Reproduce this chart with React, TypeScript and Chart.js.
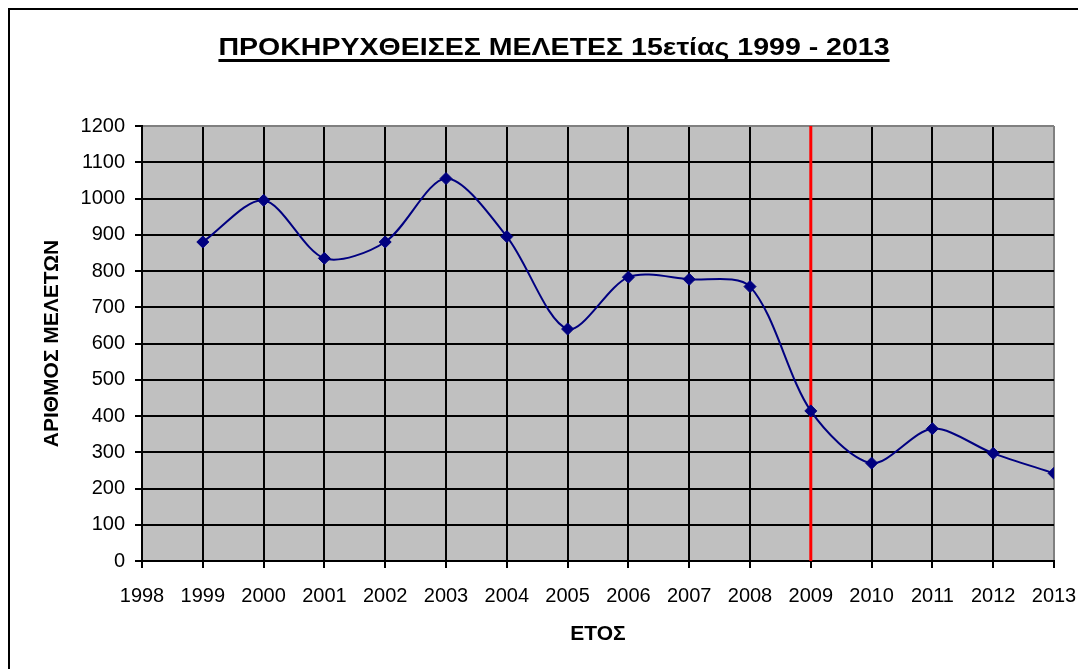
import React, { useEffect, useRef } from "react";
import { Chart, registerables } from "chart.js";

Chart.register(...registerables);

const TITLE = "ΠΡΟΚΗΡΥΧΘΕΙΣΕΣ ΜΕΛΕΤΕΣ 15ετίας 1999 - 2013";
const X_TITLE = "ΕΤΟΣ";
const Y_TITLE = "ΑΡΙΘΜΟΣ ΜΕΛΕΤΩΝ";
const years = [1999, 2000, 2001, 2002, 2003, 2004, 2005, 2006, 2007, 2008, 2009, 2010, 2011, 2012, 2013];
const values = [880, 995, 835, 880, 1055, 895, 640, 783, 777, 757, 414, 270, 365, 297, 242];
const X_MIN = 1998;
const X_MAX = 2013;
const Y_MIN = 0;
const Y_MAX = 1200;
const Y_STEP = 100;
const MARKER_YEAR = 2009;

const FONT = "'Liberation Sans', Arial, sans-serif";

export default function App() {
  const ref = useRef<HTMLCanvasElement | null>(null);

  useEffect(() => {
    if (!ref.current) return;

    const bgPlugin = {
      id: "plotBg",
      beforeDraw(chart: any) {
        const { ctx, chartArea } = chart;
        ctx.save();
        ctx.fillStyle = "#C0C0C0";
        ctx.fillRect(chartArea.left, chartArea.top, chartArea.right - chartArea.left, chartArea.bottom - chartArea.top);
        ctx.restore();
      },
    };

    const markerPlugin = {
      id: "marker",
      beforeDatasetsDraw(chart: any) {
        const { ctx, chartArea, scales } = chart;
        const x = scales.x.getPixelForValue(MARKER_YEAR);
        ctx.save();
        ctx.strokeStyle = "#FF0000";
        ctx.lineWidth = 3;
        ctx.beginPath();
        ctx.moveTo(x, chartArea.top);
        ctx.lineTo(x, chartArea.bottom);
        ctx.stroke();
        ctx.restore();
      },
    };

    const titlePlugin = {
      id: "ulTitle",
      afterDraw(chart: any) {
        const { ctx } = chart;
        ctx.save();
        ctx.font = `bold 23px ${FONT}`;
        ctx.fillStyle = "#000";
        ctx.textAlign = "center";
        ctx.textBaseline = "alphabetic";
        const cx = 544;
        const by = 45;
        const sx = 1.24;
        ctx.translate(cx, 0);
        ctx.scale(sx, 1);
        ctx.fillText(TITLE, 0, by);
        const w = ctx.measureText(TITLE).width;
        ctx.fillRect(-w / 2, 49, w, 3);
        ctx.restore();
      },
    };

    const chart = new Chart(ref.current, {
      type: "line",
      data: {
        datasets: [
          {
            data: years.map((y, i) => ({ x: y, y: values[i] })),
            borderColor: "#000080",
            backgroundColor: "#000080",
            borderWidth: 2,
            tension: 0.3,
            pointStyle: "rectRot",
            pointRadius: 6,
            pointBorderWidth: 1,
            pointBackgroundColor: "#000080",
            pointBorderColor: "#000080",
            fill: false,
          },
        ],
      },
      options: {
        animation: false,
        responsive: false,
        devicePixelRatio: 1,
        layout: { padding: { left: 30, top: 116, right: 32, bottom: 22 } },
        plugins: {
          legend: { display: false },
          title: { display: false },
          tooltip: { enabled: false },
        },
        scales: {
          x: {
            type: "linear",
            min: X_MIN,
            max: X_MAX,
            afterFit(scale: any) {
              scale.height = 86;
              scale.paddingRight = 0;
              scale.paddingLeft = 0;
            },
            ticks: {
              stepSize: 1,
              autoSkip: false,
              maxRotation: 0,
              color: "#000",
              padding: 16,
              font: { family: FONT, size: 20 },
              callback: (v: any) => String(v),
            },
            grid: {
              color: (c: any) => (c.tick && c.tick.value === X_MAX ? "#808080" : "#000"),
              lineWidth: 2,
              tickColor: "#000",
              tickLength: 7,
              drawTicks: true,
            },
            border: { color: "#000", width: 2 },
            title: {
              display: true,
              text: X_TITLE,
              color: "#000",
              font: { family: FONT, size: 21, weight: "bold" },
              padding: 0,
            },
          },
          y: {
            min: Y_MIN,
            max: Y_MAX,
            afterFit(scale: any) {
              scale.width = 102;
            },
            ticks: {
              stepSize: Y_STEP,
              color: "#000",
              padding: 10,
              font: { family: FONT, size: 20 },
              callback: (v: any) => String(v),
            },
            grid: {
              color: (c: any) => (c.tick && c.tick.value === Y_MAX ? "#808080" : "#000"),
              lineWidth: 2,
              tickColor: "#000",
              tickLength: 7,
            },
            border: { color: "#000", width: 2 },
            title: {
              display: true,
              text: Y_TITLE,
              color: "#000",
              font: { family: FONT, size: 21, weight: "bold" },
              padding: 0,
            },
          },
        },
      },
      plugins: [bgPlugin, markerPlugin, titlePlugin],
    });

    return () => chart.destroy();
  }, []);

  return (
    <div
      style={{
        width: 1078,
        height: 661,
        borderTop: "2px solid #000",
        borderLeft: "2px solid #000",
        boxSizing: "border-box",
        background: "#fff",
        overflow: "hidden",
      }}
    >
      <canvas ref={ref} width={1076} height={659} style={{ display: "block" }} />
    </div>
  );
}
